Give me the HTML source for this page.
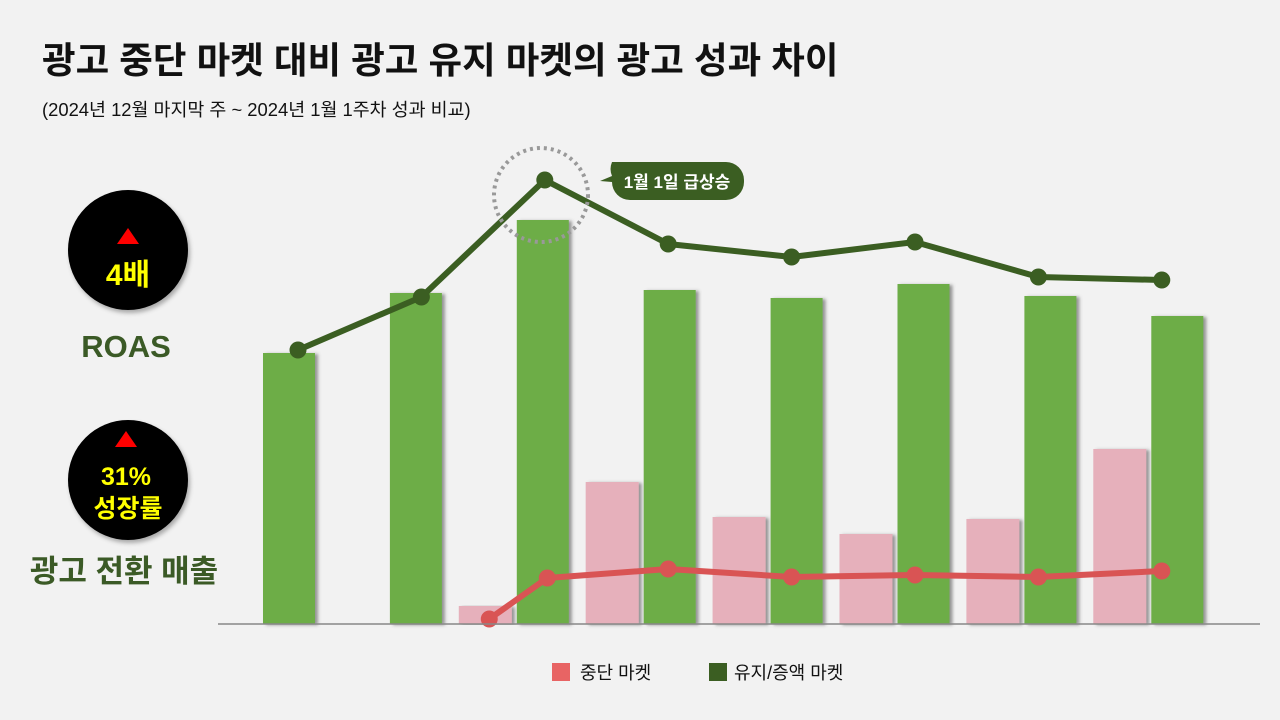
<!DOCTYPE html>
<html><head><meta charset="utf-8"><style>
body{margin:0;width:1280px;height:720px;background:#f2f2f2;overflow:hidden;font-family:"Liberation Sans","Noto Sans CJK KR",sans-serif;position:relative}
.t{position:absolute;white-space:nowrap}
</style></head><body>
<div class="t" style="left:42px;top:31px;font-size:36.5px;font-weight:700;color:#111">광고 중단 마켓 대비 광고 유지 마켓의 광고 성과 차이</div>
<div class="t" style="left:42px;top:96px;font-size:18.4px;color:#111">(2024년 12월 마지막 주 ~ 2024년 1월 1주차 성과 비교)</div>
<svg id="c" width="1280" height="720" style="position:absolute;left:0;top:0">
<defs><filter id="sh" x="-20%" y="-5%" width="150%" height="110%"><feDropShadow dx="3" dy="1" stdDeviation="1.5" flood-color="#555" flood-opacity="0.6"/></filter>
<filter id="cs" x="-20%" y="-20%" width="150%" height="150%"><feDropShadow dx="2" dy="3" stdDeviation="2" flood-color="#000" flood-opacity="0.3"/></filter></defs>
<g id="bars"></g><g id="lines"></g>
<line x1="218" y1="624" x2="1260" y2="624" stroke="#888" stroke-width="1.5"/>
<circle cx="541" cy="195" r="47" fill="none" stroke="#999" stroke-width="4" stroke-dasharray="3 4"/>
<g><path d="M612,162 H726 a18,18 0 0 1 18,18 v2 a18,18 0 0 1 -18,18 H630 a18,18 0 0 1 -18,-18 l-12,-1 l12,-5 a18,18 0 0 1 0,-14z" fill="#3b5e22"/>
<text x="677" y="188" text-anchor="middle" fill="#fff" font-size="17" font-weight="700" font-family="Liberation Sans,Noto Sans CJK KR,sans-serif">1월 1일 급상승</text></g>
<g><circle cx="128" cy="250" r="60" fill="#000" filter="url(#cs)"/><polygon points="128,228 139,244 117,244" fill="#f00"/>
<text x="128" y="285" text-anchor="middle" fill="#ffff00" font-size="30" font-weight="700" font-family="Liberation Sans,Noto Sans CJK KR,sans-serif">4배</text></g>
<text x="126" y="357" text-anchor="middle" fill="#3b5a26" font-size="31" font-weight="700" font-family="Liberation Sans,Noto Sans CJK KR,sans-serif">ROAS</text>
<g><circle cx="128" cy="480" r="60" fill="#000" filter="url(#cs)"/><polygon points="126,431 137,447 115,447" fill="#f00"/>
<text x="126" y="485" text-anchor="middle" fill="#ffff00" font-size="25" font-weight="700" font-family="Liberation Sans,Noto Sans CJK KR,sans-serif">31%</text>
<text x="128" y="517" text-anchor="middle" fill="#ffff00" font-size="25" font-weight="700" font-family="Liberation Sans,Noto Sans CJK KR,sans-serif">성장률</text></g>
<text x="124" y="582" text-anchor="middle" fill="#3b5a26" font-size="31" font-weight="700" font-family="Liberation Sans,Noto Sans CJK KR,sans-serif">광고 전환 매출</text>
<g>
<rect x="552" y="663" width="18" height="18" fill="#e86464"/>
<text x="580" y="679" font-size="18" fill="#111" font-family="Liberation Sans,Noto Sans CJK KR,sans-serif">중단 마켓</text>
<rect x="709" y="663" width="18" height="18" fill="#3b5e22"/>
<text x="734" y="679" font-size="18" fill="#111" font-family="Liberation Sans,Noto Sans CJK KR,sans-serif">유지/증액 마켓</text></g>
</svg>
<script>
const categories=["w1","w2","w3","w4","w5","w6","w7","w8"];
const greenBars=[271,331,404,334,326,340,328,308];
const pinkBars=[0,0,18,142,107,90,105,175];
const greenLine=[274,327,444,380,367,382,347,344];
const redLineIdx=[1.55,2.02,3,4,5,6,7];
const redLine=[5,46,55,47,49,47,53];
const NS="http://www.w3.org/2000/svg";
const base=624;
function gx(i){return 263+126.9*i;}
function px(i){return gx(i)-58;}
function lx(i){return 298+123.4*i;}
function by(v){return base-v;}
const bars=document.getElementById('bars'),lines=document.getElementById('lines');
categories.forEach((c,i)=>{
 if(pinkBars[i]>0){const r=document.createElementNS(NS,'rect');
  r.setAttribute('x',px(i));r.setAttribute('y',by(pinkBars[i]));r.setAttribute('width',53);r.setAttribute('height',pinkBars[i]);r.setAttribute('fill','#e6b0bb');r.setAttribute('filter','url(#sh)');
  
  bars.appendChild(r);}
 const g=document.createElementNS(NS,'rect');
 g.setAttribute('x',gx(i));g.setAttribute('y',by(greenBars[i]));g.setAttribute('width',52);g.setAttribute('height',greenBars[i]);g.setAttribute('fill','#6dad47');g.setAttribute('filter','url(#sh)');
 
 bars.appendChild(g);
});
function line(xs,ys,color,name){
 const p=document.createElementNS(NS,'polyline');
 p.setAttribute('points',xs.map((x,i)=>x+','+ys[i]).join(' '));p.setAttribute('fill','none');p.setAttribute('stroke',color);p.setAttribute('stroke-width',6);p.setAttribute('stroke-linejoin','round');
 
 lines.appendChild(p);
 xs.forEach((x,i)=>{const c=document.createElementNS(NS,'circle');c.setAttribute('cx',x);c.setAttribute('cy',ys[i]);c.setAttribute('r',8.5);c.setAttribute('fill',color);
  
  lines.appendChild(c);});
}
line(redLineIdx.map(lx),redLine.map(by),'#d95454','stopped');
line(categories.map((c,i)=>lx(i)),greenLine.map(by),'#3b5e22','kept');
</script>
</body></html>
